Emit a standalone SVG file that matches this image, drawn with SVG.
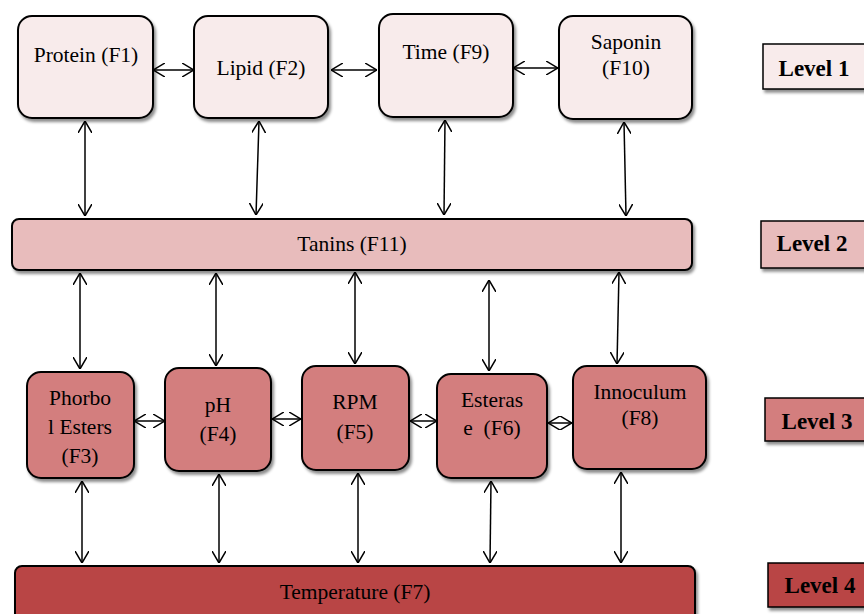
<svg xmlns="http://www.w3.org/2000/svg" width="864" height="614" viewBox="0 0 864 614">
<defs>
  <filter id="sh" x="-10%" y="-10%" width="130%" height="140%">
    <feDropShadow dx="2" dy="3" stdDeviation="1.6" flood-color="#000" flood-opacity="0.45"/>
  </filter>
  <marker id="ah" viewBox="0 0 12 14" refX="12" refY="7" markerWidth="12" markerHeight="14" markerUnits="userSpaceOnUse" orient="auto-start-reverse">
    <path d="M0,0 L12,7 L0,14" fill="none" stroke="#000" stroke-width="1.5"/>
  </marker>
</defs>
<style>
  .box { stroke: #000; stroke-width: 2; filter: url(#sh); }
  .l1 { fill: #f8ebeb; }
  .l2 { fill: #e8bcbc; }
  .l3 { fill: #d37e7e; }
  .l4 { fill: #b94545; }
  .lv { stroke: #000; stroke-width: 1.5; filter: url(#sh); }
  text { font-family: "Liberation Serif", "Times New Roman", serif; font-size: 21.5px; fill: #000; text-anchor: middle; }
  .bold { font-weight: bold; font-size: 23px; }
  .c { stroke: #000; stroke-width: 1.5; fill: none; marker-start: url(#ah); marker-end: url(#ah); }
</style>

<g id="connectors">
  <line class="c" x1="153" y1="70" x2="194" y2="70"/>
  <line class="c" x1="331" y1="70" x2="377" y2="70"/>
  <line class="c" x1="513" y1="68" x2="558" y2="68"/>
  <line class="c" x1="85" y1="121" x2="85" y2="216"/>
  <line class="c" x1="259" y1="121" x2="256" y2="215"/>
  <line class="c" x1="445" y1="120" x2="444" y2="215"/>
  <line class="c" x1="624" y1="122" x2="626" y2="216"/>
  <line class="c" x1="80" y1="273" x2="80" y2="369"/>
  <line class="c" x1="216" y1="273" x2="216" y2="366"/>
  <line class="c" x1="355" y1="272" x2="355" y2="364"/>
  <line class="c" x1="489" y1="280" x2="489" y2="371"/>
  <line class="c" x1="619" y1="272" x2="617" y2="364"/>
  <line class="c" x1="134" y1="421" x2="165" y2="421"/>
  <line class="c" x1="272" y1="419" x2="301" y2="419"/>
  <line class="c" x1="410" y1="421" x2="437" y2="421"/>
  <line class="c" x1="548" y1="423" x2="572" y2="423"/>
  <line class="c" x1="82" y1="481" x2="82" y2="563"/>
  <line class="c" x1="219" y1="474" x2="219" y2="563"/>
  <line class="c" x1="358" y1="473" x2="358" y2="563"/>
  <line class="c" x1="491" y1="481" x2="490" y2="563"/>
  <line class="c" x1="621" y1="472" x2="621" y2="563"/>
</g>

<g id="protein">
  <rect class="box l1" x="18" y="16" width="135" height="102" rx="14"/>
  <text x="86" y="62">Protein (F1)</text>
</g>
<g id="lipid">
  <rect class="box l1" x="194" y="16" width="134" height="102" rx="14"/>
  <text x="261" y="75">Lipid (F2)</text>
</g>
<g id="time">
  <rect class="box l1" x="379" y="14" width="134" height="103" rx="14"/>
  <text x="446" y="59">Time (F9)</text>
</g>
<g id="saponin">
  <rect class="box l1" x="559" y="16" width="133" height="103" rx="14"/>
  <text x="626" y="49">Saponin</text>
  <text x="626" y="75">(F10)</text>
</g>

<g id="tanins">
  <rect class="box l2" x="12" y="219" width="680" height="51" rx="7"/>
  <text x="352" y="251">Tanins (F11)</text>
</g>

<g id="phorbol">
  <rect class="box l3" x="27" y="372" width="107" height="106" rx="14"/>
  <text x="80" y="405">Phorbo</text>
  <text x="80" y="434">l Esters</text>
  <text x="80" y="463">(F3)</text>
</g>
<g id="ph">
  <rect class="box l3" x="165" y="368" width="106" height="103" rx="14"/>
  <text x="218" y="412">pH</text>
  <text x="218" y="441">(F4)</text>
</g>
<g id="rpm">
  <rect class="box l3" x="302" y="366" width="107" height="104" rx="14"/>
  <text x="355" y="409">RPM</text>
  <text x="355" y="439">(F5)</text>
</g>
<g id="esterase">
  <rect class="box l3" x="437" y="374" width="110" height="104" rx="14"/>
  <text x="492" y="407">Esteras</text>
  <text x="492" y="435" xml:space="preserve">e  (F6)</text>
</g>
<g id="innoculum">
  <rect class="box l3" x="573" y="366" width="133" height="103" rx="14"/>
  <text x="640" y="399">Innoculum</text>
  <text x="640" y="425">(F8)</text>
</g>

<g id="temperature">
  <rect class="box l4" x="15" y="566" width="680" height="60" rx="7"/>
  <text x="355" y="599">Temperature (F7)</text>
</g>

<g id="level1">
  <rect class="lv l1" x="763" y="44" width="110" height="45"/>
  <text class="bold" x="814" y="76">Level 1</text>
</g>
<g id="level2">
  <rect class="lv l2" x="761" y="221" width="110" height="47"/>
  <text class="bold" x="812" y="251">Level 2</text>
</g>
<g id="level3">
  <rect class="lv l3" x="765" y="398" width="110" height="43"/>
  <text class="bold" x="817" y="429">Level 3</text>
</g>
<g id="level4">
  <rect class="lv l4" x="768" y="563" width="110" height="44"/>
  <text class="bold" x="820" y="593">Level 4</text>
</g>
</svg>
